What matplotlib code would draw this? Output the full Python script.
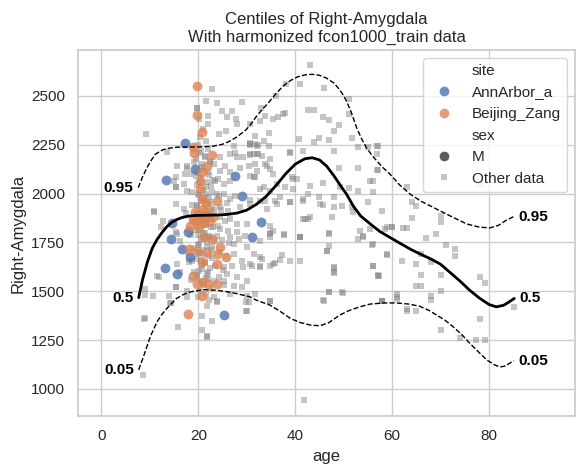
import matplotlib
matplotlib.use("Agg")
import matplotlib.pyplot as plt
from matplotlib.lines import Line2D
import seaborn as sns

sns.set_theme(style="whitegrid")
plt.rcParams['font.family'] = ['Liberation Sans', 'DejaVu Sans']

# ---------------- data ----------------
annarbor_age = [17.3, 13.4, 19.4, 27.6, 29.0, 32.9, 31.1, 14.6, 14.4, 16.6, 18.3, 13.2, 15.6, 25.4, 17.8]
annarbor_val = [2261, 2068, 2125, 2088, 1989, 1852, 1778, 1851, 1767, 1716, 1673, 1617, 1589, 1379, 1805]

beijing_age = [19.7, 19.7, 20.8, 18.9, 19.1, 22.9, 21.8, 20.8, 20.4, 20.4, 20.8, 23.8, 19.4, 18.9,
               20.8, 18.3, 20.1, 21.1, 22.9, 24.5, 18.0, 19.7, 21.8, 23.8, 25.8, 20.8, 23.8, 18.9,
               20.8, 19.7, 22.1, 23.8, 20.8, 17.8, 21.5, 21.0, 22.0, 21.8, 20.5, 22.5, 21.0, 19.5,
               20.0, 23.0]
beijing_val = [2548, 2403, 2316, 2236, 2205, 2198, 2142, 2108, 2065, 2023, 1972, 1963, 1904, 1870,
               1878, 1836, 1827, 1776, 1767, 1725, 1716, 1708, 1700, 1691, 1673, 1648, 1640, 1580,
               1546, 1538, 1538, 1538, 1475, 1381, 1950, 1920, 1905, 1890, 1880, 1860, 1850, 1860,
               1895, 1880]

other_age = [56.8, 56.8, 56.8, 56.0, 56.0, 63.0, 64.0, 65.0, 57.9, 64.0, 70.0, 70.0, 60.0, 58.6,
             62.3, 63.0, 69.0, 67.0, 56.0, 71.1, 73.0, 73.0, 58.9, 66.0, 62.0, 65.0, 56.0, 68.0,
             57.0, 66.0, 70.0, 78.1, 79.2, 65.0, 66.0, 61.0, 70.0, 68.0, 68.0, 57.9, 61.0, 63.0,
             65.0, 85.2, 78.1, 70.0, 74.0, 77.3, 79.2,
             43.0, 46.0, 41.0, 38.0, 37.5, 42.7, 43.8, 45.8, 47.0, 48.0, 49.0, 51.0, 40.7, 43.8,
             45.0, 46.9, 51.7, 53.0, 55.0, 57.0, 41.6, 39.0, 48.0, 49.0, 53.0, 57.0, 39.6, 45.8,
             55.5, 51.0, 43.1, 49.3, 52.9, 37.9, 39.6, 42.7, 45.0, 48.0, 39.0, 41.7, 49.6, 51.7,
             55.0, 45.2, 45.8, 48.0, 42.0, 42.7, 47.6, 52.0, 53.4, 55.5, 54.0, 59.0, 60.0, 47.0,
             41.0, 46.5, 48.0, 48.0, 57.2, 46.9, 49.6, 45.8, 57.9, 61.0, 63.0, 41.9, 78.1,
             51.0, 37.8, 36.4, 35.5, 33.8, 32.8, 30.7, 34.5, 33.5, 31.8, 31.8, 30.7, 32.1, 33.1,
             30.7, 39.0, 31.8, 33.8, 34.8, 30.7, 31.8, 39.3, 40.3, 32.8, 36.9, 35.9, 33.8, 39.0,
             41.7, 30.7, 37.6, 34.8, 41.0, 41.7, 43.1,
             34.8, 37.6, 40.9, 47.0, 47.0, 46.5, 32.8, 37.3, 36.9, 39.0, 40.9, 35.9, 30.7, 32.8,
             48.0, 48.0, 56.1, 57.0, 58.9, 53.0, 54.0, 55.8, 31.8, 34.8, 47.0, 49.8, 46.0, 57.9,
             30.7, 32.4, 27.3, 34.5, 26.6, 24.5, 28.0, 30.7, 32.4, 34.8, 17.7, 15.6, 17.3, 23.2,
             25.6, 24.5, 26.6, 28.7, 30.4, 32.1, 34.2, 35.5, 15.3, 17.0, 17.7, 23.5, 25.2, 26.6,
             31.4, 33.5, 34.8, 36.2, 25.2, 26.6, 27.6, 30.7, 32.8, 34.2, 36.2, 24.5, 26.2, 28.7,
             15.3, 17.0, 24.5, 26.6, 28.0, 30.0, 34.8, 35.5, 24.5, 26.2, 28.0, 23.8, 26.6, 28.3,
             29.7, 32.8, 34.8, 16.3, 15.6, 27.3, 30.0, 31.4, 27.3, 29.0, 33.1, 34.8, 27.0, 29.3,
             25.2, 15.6, 16.3, 15.3, 25.9, 28.0, 25.2, 27.3, 30.0, 29.0, 26.6, 23.2, 23.8, 30.4,
             17.7, 17.7,
             22.8, 21.6, 23.9, 19.7, 24.9, 21.9, 25.9, 27.8, 27.9, 21.9, 9.2, 24.2, 25.8, 30.7,
             32.1, 27.6, 29.3, 31.4, 13.5, 14.9, 17.7, 10.8, 12.2, 15.3, 15.5, 10.8, 12.8, 15.3,
             11.5, 15.3, 13.9, 8.9, 10.6, 14.4, 9.1, 15.9, 8.6, 20.8, 21.8, 22.8, 20.8, 21.8,
             23.9, 29.9, 29.9, 8.7, 21.8, 9.1, 11.8, 14.2, 35.5, 30.0, 30.0, 32.8, 31.1, 34.8,
             33.0, 29.0, 36.0, 27.0,
             19.8, 20.2, 21.0, 20.4, 21.6, 20.0, 22.0, 20.6, 21.4, 19.6, 22.4, 20.8, 21.2, 19.9,
             22.2, 20.5, 21.7, 19.7, 22.6, 20.9, 21.5, 20.1, 22.3, 20.7, 21.9, 19.8, 22.8, 21.1,
             20.3, 22.1, 20.9, 19.6, 21.6, 22.7, 20.2, 21.3, 19.9, 22.4, 20.6, 21.8, 20.0, 22.9,
             21.0, 20.4, 22.2, 19.7, 21.4, 20.8, 22.5, 20.1, 21.7, 19.8, 22.0, 20.5, 21.2, 22.7,
             20.3, 21.5, 19.9, 22.3,
             20.1, 21.3, 22.5, 20.7, 21.9, 19.5, 23.1, 20.4, 21.6, 22.8, 20.0, 21.2, 22.4, 19.8,
             23.3, 20.6, 21.8, 22.0, 20.3, 21.5, 23.0, 19.6, 20.9, 22.2, 21.1, 23.5, 20.2, 21.7,
             22.6, 19.9, 21.0, 22.9, 20.5, 21.4, 23.4, 20.8, 22.1, 19.7, 21.6, 23.2,
             18.5, 24.0, 18.8, 24.3, 18.6, 24.6, 18.9, 24.1, 18.4, 24.8, 19.0, 24.4, 18.7, 25.0,
             19.2, 24.2, 18.5, 25.3, 19.1, 23.9, 26.0, 17.5, 25.5, 18.2, 26.4, 17.9, 25.7, 18.0]
other_val = [2244, 2202, 2120, 2065, 2006, 2031, 1955, 1938, 1912, 1875, 1887, 1852, 1827, 1819,
             1822, 1822, 1793, 1773, 1742, 1737, 1716, 1682, 1691, 1691, 1657, 1640, 1631, 1648,
             1580, 1585, 1585, 1575, 1540, 1529, 1525, 1486, 1500, 1478, 1456, 1449, 1461, 1401,
             1401, 1418, 1358, 1302, 1261, 1251, 1248,
             2658, 2542, 2560, 2560, 2406, 2427, 2427, 2389, 2377, 2321, 2352, 2406, 2279, 2262,
             2284, 2275, 2284, 2236, 2239, 2244, 2219, 2205, 2219, 2133, 2133, 2120, 2074, 2052,
             2065, 2028, 2040, 2031, 2014, 2031, 2023, 1997, 1980, 1980, 1955, 1972, 1938, 1929,
             1955, 1946, 1943, 1929, 1870, 1870, 1878, 1904, 1810, 1819, 1784, 1827, 1827, 1793,
             1776, 1708, 1622, 1597, 1580, 1495, 1495, 1456, 1452, 1469, 1410, 941, 2049,
             2483, 2410, 2393, 2381, 2398, 2372, 2355, 2312, 2270, 2296, 2253, 2253, 2202, 2193,
             2202, 2210, 2151, 2151, 2125, 2091, 2082, 2082, 2074, 2023, 1984, 1963, 1963, 1955,
             1963, 1967, 1793, 1793, 1776, 1870, 1878,
             1796, 1789, 1776, 1796, 1730, 1704, 1673, 1687, 1660, 1657, 1657, 1645, 1640, 1626,
             1617, 1592, 1631, 1583, 1687, 1767, 1776, 1738, 1486, 1448, 1495, 1491, 1452, 1452,
             2250, 2250, 2244, 2244, 2202, 2185, 2185, 2198, 2202, 2176, 2142, 2142, 2100, 2151,
             2142, 2116, 2108, 2133, 2142, 2116, 2142, 2100, 2031, 2048, 2014, 2065, 2048, 2065,
             2082, 2031, 2014, 2048, 1997, 1972, 1989, 1946, 1963, 1921, 1946, 1929, 1912, 1929,
             1946, 1921, 1878, 1870, 1844, 1844, 1835, 1810, 1819, 1810, 1801, 1784, 1776, 1767,
             1784, 1759, 1776, 1759, 1793, 1742, 1725, 1691, 1691, 1657, 1665, 1631, 1631, 1622,
             1622, 1640, 1597, 1520, 1589, 1571, 1554, 1529, 1554, 1520, 1486, 1469, 1443, 1443,
             1503, 1469,
             2534, 2471, 2461, 2440, 2423, 2398, 2393, 2381, 2355, 2355, 2304, 2304, 2321, 2256,
             2244, 2209, 2185, 2202, 2210, 2065, 2133, 1904, 1827, 2082, 2031, 1912, 1861, 1801,
             1580, 1520, 1478, 1483, 1475, 1438, 1362, 1316, 1069, 1372, 1423, 1350, 1304, 1270,
             1448, 1447, 1401, 1358, 1268, 1512, 1575, 1438, 1640, 1478, 1401, 1631, 1631, 1452,
             2440, 2470, 2500, 2420,
             2440, 2380, 2330, 2290, 2270, 2250, 2230, 2215, 2190, 2175, 2160, 2150, 2120, 2105,
             2095, 2080, 2060, 2045, 2040, 2020, 2000, 1990, 1980, 1960, 1945, 1935, 1925, 1910,
             1895, 1880, 1865, 1850, 1840, 1830, 1815, 1800, 1790, 1780, 1765, 1750, 1735, 1725,
             1710, 1695, 1680, 1665, 1650, 1635, 1620, 1605, 1590, 1575, 1560, 1545, 1530, 1515,
             1500, 1485, 1470, 1455,
             2205, 2185, 2165, 2135, 2112, 2090, 2070, 2052, 2032, 2010, 1995, 1975, 1955, 1940,
             1918, 1902, 1888, 1872, 1858, 1845, 1828, 1812, 1798, 1785, 1770, 1755, 1742, 1728,
             1712, 1700, 1686, 1672, 1655, 1642, 1628, 1612, 1598, 1582, 1566, 1550,
             2100, 2075, 2010, 1985, 1940, 1915, 1860, 1835, 1790, 1760, 1720, 1700, 1655, 1610,
             1600, 1575, 1555, 1530, 2160, 2000, 1950, 1900, 1860, 1820, 1745, 1700, 1680, 1650]

c95_age = [7.6, 8.5, 9.4, 10.3, 11.1, 12.0, 12.8, 14.0, 15.6, 18.0, 20.0, 23.0, 25.0, 26.5,
           28.0, 29.9, 31.0, 32.0, 33.2, 34.5, 36.0, 37.5, 39.0, 40.5, 42.0, 43.5, 45.0, 46.5,
           48.0, 49.2, 50.0, 50.6, 51.5, 52.7, 53.7, 54.7, 56.0, 58.0, 59.6, 61.5, 63.7, 66.0,
           69.2, 72.0, 75.4, 78.0, 80.2, 82.0, 83.6, 85.0]
c95_val = [2030, 2085, 2132, 2170, 2200, 2215, 2225, 2232, 2237, 2238, 2238, 2242, 2252, 2268,
           2290, 2327, 2360, 2395, 2430, 2465, 2510, 2550, 2578, 2597, 2607, 2610, 2605, 2590,
           2565, 2530, 2500, 2471, 2420, 2335, 2280, 2234, 2190, 2135, 2098, 2045, 1997, 1960,
           1920, 1885, 1844, 1828, 1824, 1838, 1864, 1881]

c50_age = [7.7, 8.5, 9.5, 10.5, 11.5, 12.5, 13.5, 14.5, 15.5, 16.5, 17.5, 18.5, 20.0, 22.0,
           24.0, 26.0, 28.0, 30.0, 32.0, 34.0, 36.0, 38.0, 40.0, 42.0, 43.5, 45.0, 46.5, 48.0,
           49.5, 50.6, 52.0, 53.5, 55.5, 57.5, 59.5, 62.0, 64.0, 66.0, 68.0, 70.0, 72.0, 74.0,
           76.0, 78.0, 80.0, 81.5, 83.0, 84.0, 85.2]
c50_val = [1467, 1560, 1650, 1720, 1765, 1800, 1830, 1852, 1866, 1876, 1882, 1886, 1888, 1889,
           1890, 1893, 1900, 1915, 1945, 1985, 2040, 2100, 2150, 2178, 2183, 2172, 2140, 2090,
           2035, 1996, 1935, 1885, 1844, 1805, 1776, 1740, 1712, 1688, 1665, 1638, 1595, 1552,
           1505, 1465, 1432, 1420, 1428, 1443, 1463]

c05_age = [7.7, 8.7, 10.1, 11.5, 12.5, 13.5, 15.5, 17.0, 18.3, 21.0, 23.8, 26.0, 27.9, 30.7,
           32.0, 34.8, 37.0, 39.0, 41.0, 43.1, 45.1, 47.0, 49.2, 51.0, 53.3, 55.4, 58.2, 60.9,
           63.5, 65.7, 67.5, 69.2, 71.0, 72.6, 74.5, 76.0, 78.0, 79.5, 81.0, 82.2, 83.3, 84.3, 85.1]
c05_val = [1098, 1166, 1268, 1344, 1382, 1412, 1463, 1484, 1496, 1508, 1505, 1497, 1488, 1471,
           1454, 1429, 1395, 1361, 1340, 1327, 1323, 1340, 1378, 1400, 1420, 1434, 1440, 1440,
           1434, 1423, 1403, 1378, 1350, 1318, 1275, 1234, 1185, 1149, 1125, 1112, 1117, 1132, 1145]

centile_labels = ["0.95", "0.5", "0.05"]
site_labels = ["AnnArbor_a", "Beijing_Zang"]
site_colors = ["#4C72B0", "#DD8452"]

# ---------------- plot ----------------
fig = plt.figure(figsize=(5.83, 4.75), dpi=100)
ax = fig.add_axes([0.134, 0.124, 0.852, 0.771])

ax.scatter(other_age, other_val, marker='s', s=20, color='gray', alpha=0.45,
           linewidths=0, zorder=2)
ax.scatter(annarbor_age, annarbor_val, marker='o', s=50, color=site_colors[0], alpha=0.8,
           linewidths=0, zorder=3)
ax.scatter(beijing_age, beijing_val, marker='o', s=50, color=site_colors[1], alpha=0.8,
           linewidths=0, zorder=3)

curves = [(c95_age, c95_val, '--', 1.0), (c50_age, c50_val, '-', 2.0), (c05_age, c05_val, '--', 1.0)]
for (xa, ya, ls, lw), lab in zip(curves, centile_labels):
    ax.plot(xa, ya, color='black', linestyle=ls, linewidth=lw, zorder=4)
    ax.text(xa[0] - 1.0, ya[0], lab, ha='right', va='center', fontsize=11,
            fontweight='bold', color='black', zorder=5)
    ax.text(xa[-1] + 1.0, ya[-1], lab, ha='left', va='center', fontsize=11,
            fontweight='bold', color='black', zorder=5)

ax.set_xlim(-4.8, 97.7)
ax.set_ylim(861, 2735)
ax.set_xticks([0, 20, 40, 60, 80])
ax.set_yticks([1000, 1250, 1500, 1750, 2000, 2250, 2500])
ax.tick_params(labelsize=11)
ax.set_xlabel("age", fontsize=12)
ax.set_ylabel("Right-Amygdala", fontsize=12)
ax.set_title("Centiles of Right-Amygdala\nWith harmonized fcon1000_train data", fontsize=12)

blank = Line2D([], [], linestyle='none', marker=None)
handles = [blank,
           Line2D([], [], linestyle='none', marker='o', markersize=7, color=site_colors[0], alpha=0.8, markeredgewidth=0),
           Line2D([], [], linestyle='none', marker='o', markersize=7, color=site_colors[1], alpha=0.8, markeredgewidth=0),
           blank,
           Line2D([], [], linestyle='none', marker='o', markersize=7, color='#333333', alpha=0.8, markeredgewidth=0),
           Line2D([], [], linestyle='none', marker='s', markersize=4.5, color='gray', alpha=0.45, markeredgewidth=0)]
labels = ["site"] + site_labels + ["sex", "M", "Other data"]
ax.legend(handles, labels, loc='upper right', fontsize=11, frameon=True)

fig.savefig("out.png", dpi=100)
